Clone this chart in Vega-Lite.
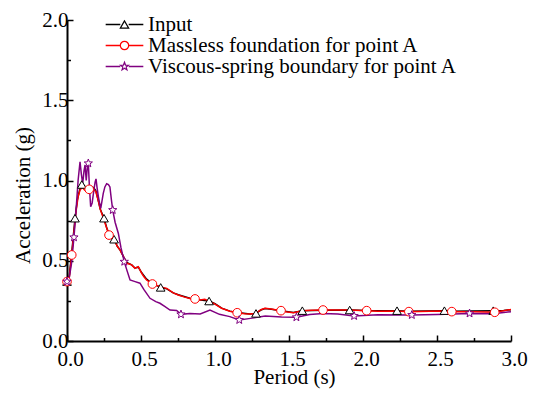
{
  "$schema": "https://vega.github.io/schema/vega-lite/v6.json",
  "width": 444,
  "height": 321,
  "autosize": {"type": "none"},
  "padding": {"left": 67, "top": 20, "right": 25, "bottom": 53},
  "background": "white",
  "config": {
    "view": {"stroke": null},
    "font": "serif",
    "axis": {
      "grid": false,
      "domainColor": "black",
      "domainWidth": 2,
      "tickColor": "black",
      "tickWidth": 1.5,
      "labelFont": "serif",
      "labelFontSize": 21,
      "labelColor": "black",
      "labelOverlap": false,
      "labelFlush": false,
      "titleFont": "serif",
      "titleFontSize": 21,
      "titleFontWeight": "normal",
      "titleColor": "black"
    },
    "legend": {
      "orient": "none",
      "title": null,
      "padding": 0,
      "labelFont": "serif",
      "labelFontSize": 21,
      "labelColor": "black",
      "labelLimit": 500,
      "rowPadding": -8,
      "symbolSize": 70,
      "symbolStrokeWidth": 1.2
    }
  },
  "datasets": {
    "curves": [
      {"series": "Input", "T": 0, "A": 0.37}, {"series": "Input", "T": 0.016, "A": 0.41}, {"series": "Input", "T": 0.032, "A": 0.55}, {"series": "Input", "T": 0.054, "A": 0.765}, {"series": "Input", "T": 0.07, "A": 0.88}, {"series": "Input", "T": 0.085, "A": 0.94}, {"series": "Input", "T": 0.1, "A": 0.975}, {"series": "Input", "T": 0.115, "A": 0.97}, {"series": "Input", "T": 0.13, "A": 0.955}, {"series": "Input", "T": 0.15, "A": 0.955}, {"series": "Input", "T": 0.165, "A": 0.96}, {"series": "Input", "T": 0.18, "A": 0.955}, {"series": "Input", "T": 0.195, "A": 0.935}, {"series": "Input", "T": 0.21, "A": 0.88}, {"series": "Input", "T": 0.225, "A": 0.82}, {"series": "Input", "T": 0.25, "A": 0.765}, {"series": "Input", "T": 0.27, "A": 0.7}, {"series": "Input", "T": 0.29, "A": 0.655}, {"series": "Input", "T": 0.318, "A": 0.634}, {"series": "Input", "T": 0.34, "A": 0.59}, {"series": "Input", "T": 0.36, "A": 0.565}, {"series": "Input", "T": 0.385, "A": 0.52}, {"series": "Input", "T": 0.403, "A": 0.49}, {"series": "Input", "T": 0.437, "A": 0.474}, {"series": "Input", "T": 0.459, "A": 0.455}, {"series": "Input", "T": 0.482, "A": 0.46}, {"series": "Input", "T": 0.505, "A": 0.425}, {"series": "Input", "T": 0.538, "A": 0.385}, {"series": "Input", "T": 0.577, "A": 0.358}, {"series": "Input", "T": 0.633, "A": 0.334}, {"series": "Input", "T": 0.674, "A": 0.325}, {"series": "Input", "T": 0.718, "A": 0.3}, {"series": "Input", "T": 0.752, "A": 0.288}, {"series": "Input", "T": 0.83, "A": 0.266}, {"series": "Input", "T": 0.9, "A": 0.256}, {"series": "Input", "T": 0.96, "A": 0.249}, {"series": "Input", "T": 1.0, "A": 0.232}, {"series": "Input", "T": 1.045, "A": 0.205}, {"series": "Input", "T": 1.1, "A": 0.186}, {"series": "Input", "T": 1.15, "A": 0.177}, {"series": "Input", "T": 1.236, "A": 0.168}, {"series": "Input", "T": 1.277, "A": 0.172}, {"series": "Input", "T": 1.31, "A": 0.193}, {"series": "Input", "T": 1.338, "A": 0.202}, {"series": "Input", "T": 1.38, "A": 0.198}, {"series": "Input", "T": 1.446, "A": 0.189}, {"series": "Input", "T": 1.53, "A": 0.178}, {"series": "Input", "T": 1.59, "A": 0.189}, {"series": "Input", "T": 1.73, "A": 0.192}, {"series": "Input", "T": 1.91, "A": 0.193}, {"series": "Input", "T": 2.025, "A": 0.19}, {"series": "Input", "T": 2.23, "A": 0.189}, {"series": "Input", "T": 2.31, "A": 0.185}, {"series": "Input", "T": 2.55, "A": 0.189}, {"series": "Input", "T": 2.6, "A": 0.185}, {"series": "Input", "T": 2.88, "A": 0.189}, {"series": "Input", "T": 2.95, "A": 0.19}, {"series": "Input", "T": 3.0, "A": 0.195},

      {"series": "Massless foundation for point A", "T": 0, "A": 0.37}, {"series": "Massless foundation for point A", "T": 0.016, "A": 0.4}, {"series": "Massless foundation for point A", "T": 0.032, "A": 0.536}, {"series": "Massless foundation for point A", "T": 0.045, "A": 0.66}, {"series": "Massless foundation for point A", "T": 0.06, "A": 0.8}, {"series": "Massless foundation for point A", "T": 0.075, "A": 0.9}, {"series": "Massless foundation for point A", "T": 0.09, "A": 0.945}, {"series": "Massless foundation for point A", "T": 0.105, "A": 0.955}, {"series": "Massless foundation for point A", "T": 0.12, "A": 0.94}, {"series": "Massless foundation for point A", "T": 0.135, "A": 0.935}, {"series": "Massless foundation for point A", "T": 0.15, "A": 0.945}, {"series": "Massless foundation for point A", "T": 0.165, "A": 0.95}, {"series": "Massless foundation for point A", "T": 0.18, "A": 0.945}, {"series": "Massless foundation for point A", "T": 0.195, "A": 0.93}, {"series": "Massless foundation for point A", "T": 0.21, "A": 0.88}, {"series": "Massless foundation for point A", "T": 0.225, "A": 0.82}, {"series": "Massless foundation for point A", "T": 0.24, "A": 0.78}, {"series": "Massless foundation for point A", "T": 0.255, "A": 0.74}, {"series": "Massless foundation for point A", "T": 0.27, "A": 0.7}, {"series": "Massless foundation for point A", "T": 0.284, "A": 0.66}, {"series": "Massless foundation for point A", "T": 0.3, "A": 0.645}, {"series": "Massless foundation for point A", "T": 0.32, "A": 0.63}, {"series": "Massless foundation for point A", "T": 0.34, "A": 0.59}, {"series": "Massless foundation for point A", "T": 0.36, "A": 0.565}, {"series": "Massless foundation for point A", "T": 0.37, "A": 0.546}, {"series": "Massless foundation for point A", "T": 0.385, "A": 0.52}, {"series": "Massless foundation for point A", "T": 0.403, "A": 0.484}, {"series": "Massless foundation for point A", "T": 0.42, "A": 0.48}, {"series": "Massless foundation for point A", "T": 0.437, "A": 0.474}, {"series": "Massless foundation for point A", "T": 0.459, "A": 0.453}, {"series": "Massless foundation for point A", "T": 0.482, "A": 0.463}, {"series": "Massless foundation for point A", "T": 0.505, "A": 0.422}, {"series": "Massless foundation for point A", "T": 0.52, "A": 0.4}, {"series": "Massless foundation for point A", "T": 0.538, "A": 0.38}, {"series": "Massless foundation for point A", "T": 0.577, "A": 0.355}, {"series": "Massless foundation for point A", "T": 0.61, "A": 0.345}, {"series": "Massless foundation for point A", "T": 0.64, "A": 0.335}, {"series": "Massless foundation for point A", "T": 0.674, "A": 0.328}, {"series": "Massless foundation for point A", "T": 0.718, "A": 0.3}, {"series": "Massless foundation for point A", "T": 0.752, "A": 0.287}, {"series": "Massless foundation for point A", "T": 0.79, "A": 0.275}, {"series": "Massless foundation for point A", "T": 0.83, "A": 0.265}, {"series": "Massless foundation for point A", "T": 0.865, "A": 0.262}, {"series": "Massless foundation for point A", "T": 0.9, "A": 0.255}, {"series": "Massless foundation for point A", "T": 0.93, "A": 0.26}, {"series": "Massless foundation for point A", "T": 0.96, "A": 0.249}, {"series": "Massless foundation for point A", "T": 1.0, "A": 0.23}, {"series": "Massless foundation for point A", "T": 1.045, "A": 0.204}, {"series": "Massless foundation for point A", "T": 1.1, "A": 0.185}, {"series": "Massless foundation for point A", "T": 1.15, "A": 0.176}, {"series": "Massless foundation for point A", "T": 1.2, "A": 0.17}, {"series": "Massless foundation for point A", "T": 1.236, "A": 0.168}, {"series": "Massless foundation for point A", "T": 1.277, "A": 0.172}, {"series": "Massless foundation for point A", "T": 1.31, "A": 0.195}, {"series": "Massless foundation for point A", "T": 1.338, "A": 0.204}, {"series": "Massless foundation for point A", "T": 1.38, "A": 0.2}, {"series": "Massless foundation for point A", "T": 1.446, "A": 0.189}, {"series": "Massless foundation for point A", "T": 1.49, "A": 0.18}, {"series": "Massless foundation for point A", "T": 1.53, "A": 0.176}, {"series": "Massless foundation for point A", "T": 1.59, "A": 0.189}, {"series": "Massless foundation for point A", "T": 1.65, "A": 0.192}, {"series": "Massless foundation for point A", "T": 1.73, "A": 0.193}, {"series": "Massless foundation for point A", "T": 1.82, "A": 0.193}, {"series": "Massless foundation for point A", "T": 1.91, "A": 0.193}, {"series": "Massless foundation for point A", "T": 2.025, "A": 0.189}, {"series": "Massless foundation for point A", "T": 2.1, "A": 0.185}, {"series": "Massless foundation for point A", "T": 2.23, "A": 0.187}, {"series": "Massless foundation for point A", "T": 2.31, "A": 0.183}, {"series": "Massless foundation for point A", "T": 2.45, "A": 0.185}, {"series": "Massless foundation for point A", "T": 2.55, "A": 0.187}, {"series": "Massless foundation for point A", "T": 2.6, "A": 0.183}, {"series": "Massless foundation for point A", "T": 2.75, "A": 0.183}, {"series": "Massless foundation for point A", "T": 2.89, "A": 0.179}, {"series": "Massless foundation for point A", "T": 2.95, "A": 0.188}, {"series": "Massless foundation for point A", "T": 3.0, "A": 0.197},

      {"series": "Viscous-spring boundary for point A", "T": 0, "A": 0.37}, {"series": "Viscous-spring boundary for point A", "T": 0.016, "A": 0.4}, {"series": "Viscous-spring boundary for point A", "T": 0.03, "A": 0.48}, {"series": "Viscous-spring boundary for point A", "T": 0.047, "A": 0.646}, {"series": "Viscous-spring boundary for point A", "T": 0.06, "A": 0.8}, {"series": "Viscous-spring boundary for point A", "T": 0.075, "A": 1.0}, {"series": "Viscous-spring boundary for point A", "T": 0.088, "A": 1.117}, {"series": "Viscous-spring boundary for point A", "T": 0.097, "A": 1.04}, {"series": "Viscous-spring boundary for point A", "T": 0.106, "A": 0.98}, {"series": "Viscous-spring boundary for point A", "T": 0.115, "A": 1.06}, {"series": "Viscous-spring boundary for point A", "T": 0.122, "A": 1.097}, {"series": "Viscous-spring boundary for point A", "T": 0.13, "A": 1.0}, {"series": "Viscous-spring boundary for point A", "T": 0.137, "A": 1.08}, {"series": "Viscous-spring boundary for point A", "T": 0.144, "A": 1.107}, {"series": "Viscous-spring boundary for point A", "T": 0.152, "A": 0.95}, {"series": "Viscous-spring boundary for point A", "T": 0.16, "A": 0.837}, {"series": "Viscous-spring boundary for point A", "T": 0.17, "A": 0.86}, {"series": "Viscous-spring boundary for point A", "T": 0.18, "A": 0.93}, {"series": "Viscous-spring boundary for point A", "T": 0.19, "A": 0.99}, {"series": "Viscous-spring boundary for point A", "T": 0.196, "A": 1.01}, {"series": "Viscous-spring boundary for point A", "T": 0.204, "A": 0.95}, {"series": "Viscous-spring boundary for point A", "T": 0.212, "A": 0.9}, {"series": "Viscous-spring boundary for point A", "T": 0.22, "A": 0.86}, {"series": "Viscous-spring boundary for point A", "T": 0.228, "A": 0.826}, {"series": "Viscous-spring boundary for point A", "T": 0.236, "A": 0.87}, {"series": "Viscous-spring boundary for point A", "T": 0.245, "A": 0.92}, {"series": "Viscous-spring boundary for point A", "T": 0.256, "A": 0.96}, {"series": "Viscous-spring boundary for point A", "T": 0.268, "A": 0.98}, {"series": "Viscous-spring boundary for point A", "T": 0.28, "A": 0.975}, {"series": "Viscous-spring boundary for point A", "T": 0.29, "A": 0.96}, {"series": "Viscous-spring boundary for point A", "T": 0.3, "A": 0.88}, {"series": "Viscous-spring boundary for point A", "T": 0.309, "A": 0.816}, {"series": "Viscous-spring boundary for point A", "T": 0.325, "A": 0.74}, {"series": "Viscous-spring boundary for point A", "T": 0.347, "A": 0.67}, {"series": "Viscous-spring boundary for point A", "T": 0.365, "A": 0.58}, {"series": "Viscous-spring boundary for point A", "T": 0.387, "A": 0.494}, {"series": "Viscous-spring boundary for point A", "T": 0.405, "A": 0.44}, {"series": "Viscous-spring boundary for point A", "T": 0.426, "A": 0.38}, {"series": "Viscous-spring boundary for point A", "T": 0.46, "A": 0.37}, {"series": "Viscous-spring boundary for point A", "T": 0.493, "A": 0.36}, {"series": "Viscous-spring boundary for point A", "T": 0.52, "A": 0.32}, {"series": "Viscous-spring boundary for point A", "T": 0.561, "A": 0.266}, {"series": "Viscous-spring boundary for point A", "T": 0.6, "A": 0.245}, {"series": "Viscous-spring boundary for point A", "T": 0.628, "A": 0.235}, {"series": "Viscous-spring boundary for point A", "T": 0.66, "A": 0.215}, {"series": "Viscous-spring boundary for point A", "T": 0.696, "A": 0.193}, {"series": "Viscous-spring boundary for point A", "T": 0.741, "A": 0.19}, {"series": "Viscous-spring boundary for point A", "T": 0.77, "A": 0.166}, {"series": "Viscous-spring boundary for point A", "T": 0.83, "A": 0.172}, {"series": "Viscous-spring boundary for point A", "T": 0.9, "A": 0.168}, {"series": "Viscous-spring boundary for point A", "T": 0.966, "A": 0.193}, {"series": "Viscous-spring boundary for point A", "T": 1.03, "A": 0.166}, {"series": "Viscous-spring boundary for point A", "T": 1.1, "A": 0.152}, {"series": "Viscous-spring boundary for point A", "T": 1.164, "A": 0.131}, {"series": "Viscous-spring boundary for point A", "T": 1.24, "A": 0.141}, {"series": "Viscous-spring boundary for point A", "T": 1.34, "A": 0.156}, {"series": "Viscous-spring boundary for point A", "T": 1.45, "A": 0.15}, {"series": "Viscous-spring boundary for point A", "T": 1.55, "A": 0.148}, {"series": "Viscous-spring boundary for point A", "T": 1.64, "A": 0.165}, {"series": "Viscous-spring boundary for point A", "T": 1.73, "A": 0.172}, {"series": "Viscous-spring boundary for point A", "T": 1.83, "A": 0.168}, {"series": "Viscous-spring boundary for point A", "T": 1.94, "A": 0.156}, {"series": "Viscous-spring boundary for point A", "T": 2.1, "A": 0.163}, {"series": "Viscous-spring boundary for point A", "T": 2.33, "A": 0.162}, {"series": "Viscous-spring boundary for point A", "T": 2.5, "A": 0.165}, {"series": "Viscous-spring boundary for point A", "T": 2.72, "A": 0.172}, {"series": "Viscous-spring boundary for point A", "T": 2.88, "A": 0.17}, {"series": "Viscous-spring boundary for point A", "T": 3.0, "A": 0.183}
    ],
    "markers": [
      {"s": "Input", "T": 0, "A": 0.37}, {"s": "Input", "T": 0.054, "A": 0.765}, {"s": "Input", "T": 0.1, "A": 0.975}, {"s": "Input", "T": 0.25, "A": 0.765}, {"s": "Input", "T": 0.318, "A": 0.634}, {"s": "Input", "T": 0.633, "A": 0.334}, {"s": "Input", "T": 0.96, "A": 0.249}, {"s": "Input", "T": 1.277, "A": 0.172}, {"s": "Input", "T": 1.59, "A": 0.189}, {"s": "Input", "T": 1.91, "A": 0.193}, {"s": "Input", "T": 2.23, "A": 0.189}, {"s": "Input", "T": 2.55, "A": 0.189}, {"s": "Input", "T": 2.88, "A": 0.189},
      {"s": "Massless foundation for point A", "T": 0, "A": 0.37}, {"s": "Massless foundation for point A", "T": 0.032, "A": 0.536}, {"s": "Massless foundation for point A", "T": 0.15, "A": 0.945}, {"s": "Massless foundation for point A", "T": 0.284, "A": 0.66}, {"s": "Massless foundation for point A", "T": 0.577, "A": 0.355}, {"s": "Massless foundation for point A", "T": 0.865, "A": 0.262}, {"s": "Massless foundation for point A", "T": 1.15, "A": 0.176}, {"s": "Massless foundation for point A", "T": 1.446, "A": 0.189}, {"s": "Massless foundation for point A", "T": 1.73, "A": 0.193}, {"s": "Massless foundation for point A", "T": 2.025, "A": 0.189}, {"s": "Massless foundation for point A", "T": 2.31, "A": 0.183}, {"s": "Massless foundation for point A", "T": 2.6, "A": 0.183}, {"s": "Massless foundation for point A", "T": 2.89, "A": 0.179},
      {"s": "Viscous-spring boundary for point A", "T": 0, "A": 0.37}, {"s": "Viscous-spring boundary for point A", "T": 0.047, "A": 0.646}, {"s": "Viscous-spring boundary for point A", "T": 0.144, "A": 1.107}, {"s": "Viscous-spring boundary for point A", "T": 0.309, "A": 0.816}, {"s": "Viscous-spring boundary for point A", "T": 0.387, "A": 0.494}, {"s": "Viscous-spring boundary for point A", "T": 0.77, "A": 0.166}, {"s": "Viscous-spring boundary for point A", "T": 1.164, "A": 0.131}, {"s": "Viscous-spring boundary for point A", "T": 1.55, "A": 0.148}, {"s": "Viscous-spring boundary for point A", "T": 1.94, "A": 0.156}, {"s": "Viscous-spring boundary for point A", "T": 2.33, "A": 0.162}, {"s": "Viscous-spring boundary for point A", "T": 2.72, "A": 0.172}
    ]
  },
  "encoding": {
    "x": {
      "field": "T", "type": "quantitative",
      "scale": {"domain": [0, 3], "nice": false, "zero": false},
      "axis": {
        "title": "Period (s)",
        "values": [0, 0.25, 0.5, 0.75, 1, 1.25, 1.5, 1.75, 2, 2.25, 2.5, 2.75, 3],
        "labelExpr": "datum.value % 0.5 === 0 ? format(datum.value, '.1f') : ''",
        "tickSize": {"condition": {"test": "datum.value % 0.5 === 0", "value": -6}, "value": -3.5},
        "labelFont": "serif",
        "titleFont": "serif",
        "labelOffset": 3,
        "labelPadding": 13.5,
        "titleBaseline": "alphabetic",
        "titleX": 227,
        "titleY": 42
      }
    },
    "y": {
      "field": "A", "type": "quantitative",
      "scale": {"domain": [0, 2], "nice": false, "zero": false},
      "axis": {
        "title": "Acceleration (g)",
        "values": [0, 0.25, 0.5, 0.75, 1, 1.25, 1.5, 1.75, 2],
        "labelExpr": "datum.value % 0.5 === 0 ? format(datum.value, '.1f') : ''",
        "tickSize": {"condition": {"test": "datum.value % 0.5 === 0", "value": -6}, "value": -3.5},
        "labelFont": "serif",
        "titleFont": "serif",
        "labelPadding": 5,
        "titleAngle": 270,
        "titleBaseline": "alphabetic",
        "titleX": -38,
        "titleY": 175
      }
    }
  },
  "layer": [
    {
      "data": {"name": "curves"},
      "mark": {"type": "line", "strokeWidth": 1.5, "clip": true},
      "encoding": {
        "color": {
          "field": "series", "type": "nominal",
          "scale": {"range": ["black", "#ff0000", "#800080"]},
          "legend": {
            "legendX": 47,
            "legendY": -6,
            "labelOffset": 13,
            "labelOpacity": 0,
            "symbolType": "M-4.5,0H-1M1,0H4.5",
            "symbolStrokeWidth": 1.5
          }
        }
      }
    },
    {
      "data": {"name": "markers"},
      "mark": {"type": "point", "filled": true, "size": 75, "strokeWidth": 1, "opacity": 1},
      "encoding": {
        "fill": {"value": "white"},
        "stroke": {
          "field": "s", "type": "nominal",
          "scale": {"domain": ["Input", "Massless foundation for point A", "Viscous-spring boundary for point A"], "range": ["black", "#ff0000", "#800080"]},
          "legend": {
            "legendX": 47,
            "legendY": -6,
            "labelOffset": 13,
            "labelOpacity": 1
          }
        },
        "shape": {
          "field": "s", "type": "nominal",
          "scale": {"domain": ["Input", "Massless foundation for point A", "Viscous-spring boundary for point A"], "range": ["triangle-up", "circle", "M0,-1L0.247,-0.34L0.951,-0.309L0.399,0.13L0.588,0.809L0,0.42L-0.588,0.809L-0.399,0.13L-0.951,-0.309L-0.247,-0.34Z"]},
          "legend": {
            "legendX": 47,
            "legendY": -6,
            "labelOffset": 13,
            "labelOpacity": 1
          }
        }
      }
    }
  ]
}
